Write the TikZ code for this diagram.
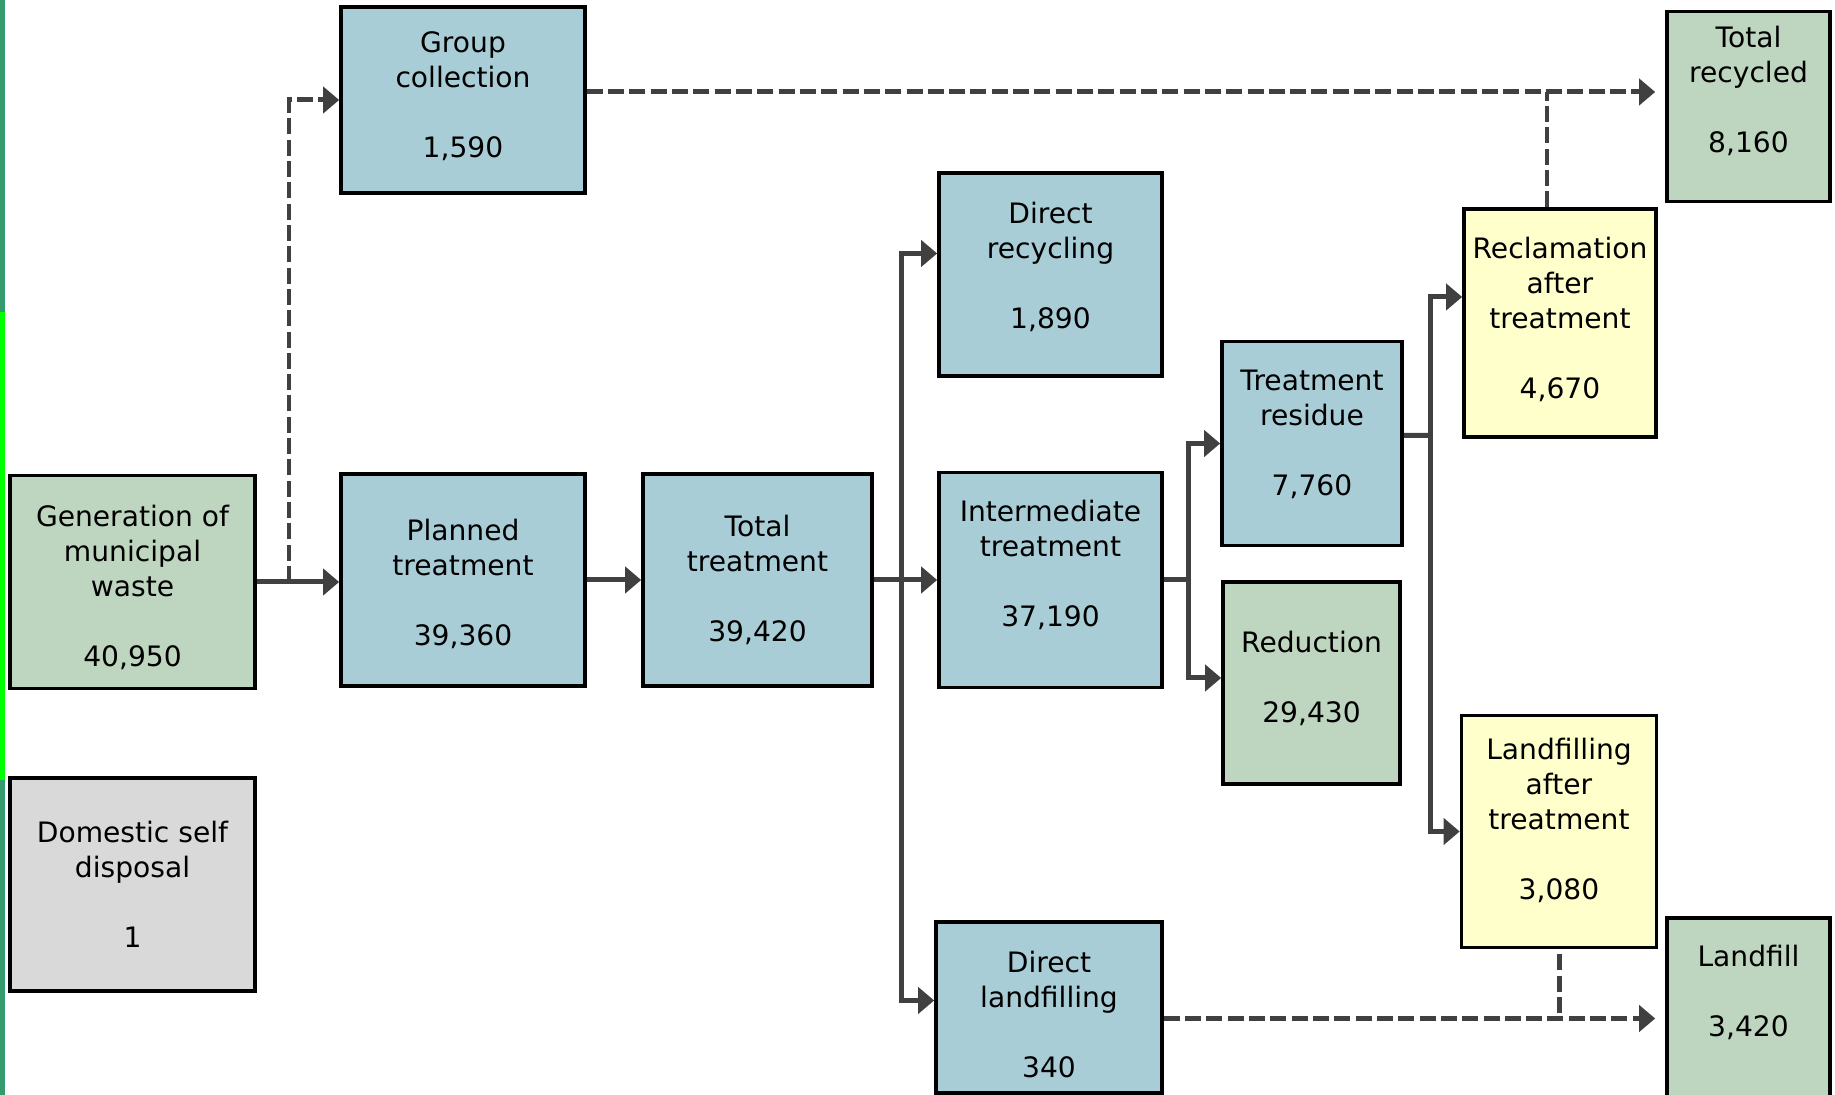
\documentclass[tikz,border=0pt]{standalone}
\usepackage{fontspec}
\setmainfont{DejaVu Sans}
\usetikzlibrary{arrows.meta}

\definecolor{boxblue}{RGB}{169,205,214}
\definecolor{boxgreen}{RGB}{190,214,192}
\definecolor{boxyellow}{RGB}{255,255,204}
\definecolor{boxgrey}{RGB}{217,217,217}
\definecolor{flowgrey}{RGB}{64,64,64}
\definecolor{edgeteal}{RGB}{52,156,108}
\definecolor{edgegreen}{RGB}{0,255,0}

\newcommand{\lowerby}[1]{\rule[-#1]{0pt}{0pt}}
\newcommand{\raiseto}[1]{\rule{0pt}{#1}}

\tikzset{
  stage/.style={draw=black,line width=1pt,align=center,inner sep=0pt,
    font=\fontsize{8pt}{9.96pt}\selectfont},
  flowline/.style={draw=flowgrey,line width=1.42pt},
  flowarrow/.style={flowline,-{Triangle[length=0.16cm,width=0.26cm]}},
  dashline/.style={flowline,dash pattern=on 0.16cm off 0.053cm},
  dasharrow/.style={flowarrow,dash pattern=on 0.16cm off 0.053cm}
}

\begin{document}
\begin{tikzpicture}[x=0.01cm,y=-0.01cm]
\useasboundingbox (0,0) rectangle (1835,1095);
\fill[edgeteal] (0,0) rectangle (4.7,1095);
\fill[edgegreen] (0,311.7) rectangle (4.7,780);

\node[stage,fill=boxgreen,minimum width=2.45cm,minimum height=2.13cm] (gen) at (132.5,582) {\raiseto{0.33cm}Generation of\\municipal\\waste\\[\baselineskip]40,950};
\node[stage,fill=boxgrey,minimum width=2.45cm,minimum height=2.13cm] (self) at (132.5,884.5) {Domestic self\\disposal\\[\baselineskip]1};
\node[stage,fill=boxblue,minimum width=2.44cm,minimum height=1.86cm] (group) at (463,100) {Group\\collection\\[\baselineskip]1,590\lowerby{0.11cm}};
\node[stage,fill=boxblue,minimum width=2.44cm,minimum height=2.12cm] (plan) at (463,580) {\raiseto{0.285cm}Planned\\treatment\\[\baselineskip]39,360};
\node[stage,fill=boxblue,minimum width=2.29cm,minimum height=2.12cm] (total) at (757.5,580) {Total\\treatment\\[\baselineskip]39,420};
\node[stage,fill=boxblue,minimum width=2.23cm,minimum height=2.03cm] (drec) at (1050.5,274.5) {Direct\\recycling\\[\baselineskip]1,890\lowerby{0.18cm}};
\node[stage,fill=boxblue,minimum width=2.23cm,minimum height=2.15cm] (inter) at (1050.5,580) {Intermediate\\treatment\\[\baselineskip]37,190\lowerby{0.34cm}};
\node[stage,fill=boxblue,minimum width=2.26cm,minimum height=1.71cm] (dland) at (1049,1007.5) {\raiseto{0.35cm}Direct\\landfilling\\[\baselineskip]340};
\node[stage,fill=boxblue,minimum width=1.80cm,minimum height=2.04cm] (resid) at (1312,443.5) {Treatment\\residue\\[\baselineskip]7,760\lowerby{0.22cm}};
\node[stage,fill=boxgreen,minimum width=1.77cm,minimum height=2.02cm] (reduc) at (1311.5,683) {Reduction\\[\baselineskip]29,430\lowerby{0.13cm}};
\node[stage,fill=boxyellow,minimum width=1.92cm,minimum height=2.28cm] (recl) at (1560,323) {Reclamation\\after\\treatment\\[\baselineskip]4,670\lowerby{0.11cm}};
\node[stage,fill=boxyellow,minimum width=1.95cm,minimum height=2.32cm] (lat) at (1559,831.5) {Landfilling\\after\\treatment\\[\baselineskip]3,080\lowerby{0.25cm}};
\node[stage,fill=boxgreen,minimum width=1.63cm,minimum height=1.90cm] (trec) at (1748.5,106.5) {Total\\recycled\\[\baselineskip]8,160\\\mbox{}};
\node[stage,fill=boxgreen,minimum width=1.63cm,minimum height=1.80cm] (landfill) at (1748.5,1008) {Landfill\\[\baselineskip]3,420\\\mbox{}};

\coordinate (j1) at (289,582);
\coordinate (j2) at (901.5,580);
\coordinate (j3) at (1188,580);
\coordinate (j4) at (1430.5,435.5);
\coordinate (g1) at ([yshift=0.08cm]group.east);
\coordinate (r1) at ([xshift=-0.13cm]recl.north);
\coordinate (d1) at ([yshift=-0.11cm]dland.east);

\draw[flowarrow] (gen.east) -- (gen.east -| plan.west);
\draw[dasharrow] (j1) |- (group.west);
\draw[flowarrow] (plan.east) -- (plan.east -| total.west);
\draw[flowarrow] (total.east) -- (total.east -| inter.west);
\draw[flowarrow] (j2) |- ([yshift=0.21cm]drec.west);
\draw[flowarrow] (j2) |- ([yshift=0.07cm]dland.west);
\draw[flowline] (inter.east) -- (j3);
\draw[flowarrow] (j3) |- (resid.west);
\draw[flowarrow] (j3) |- ([yshift=0.05cm]reduc.west);
\draw[flowline] ([yshift=0.08cm]resid.east) -- (j4);
\draw[flowarrow] (j4) |- ([yshift=0.26cm]recl.west);
\draw[flowarrow] (j4) |- (lat.west);
\draw[dasharrow,shorten >=0.1cm] (g1) -- (g1 -| trec.west);
\draw[dashline] (r1) -- (r1 |- g1);
\draw[dasharrow,shorten >=0.1cm] (d1) -- (d1 -| landfill.west);
\draw[dashline,shorten <=0.05cm] (lat.south) -- (lat.south |- d1);
\end{tikzpicture}
\end{document}
